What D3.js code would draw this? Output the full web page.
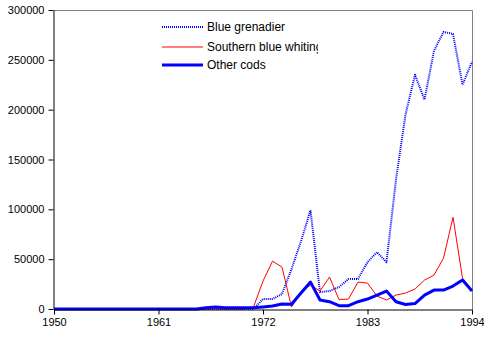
<!DOCTYPE html>
<html>
<head>
<meta charset="utf-8">
<script src="https://cdn.jsdelivr.net/npm/d3@7"></script>
<style>
body { margin: 0; background: #fff; }
svg { font-family: "Liberation Sans", Arial, sans-serif; }
</style>
</head>
<body>
<div id="chart"></div>
<script>

var years = d3.range(1950, 1995);

// values 1950..1994, tonnes
var blueGrenadier = [
	0,0,0,0,0,0,0,0,0,0,
	0,0,0,0,0,0,0,0,0,0,
	0,0,10000,10000,15000,40000,68000,99000,17000,18000,
	22000,30000,30000,47000,57000,47000,130000,195000,235000,210000,
	259000,278000,276000,225000,248000
];

var southernBlueWhiting = [
	0,0,0,0,0,0,0,0,0,0,
	0,0,0,0,0,0,0,0,0,0,
	0,2000,28000,48000,42000,2000,17000,24000,18000,32000,
	9500,10000,27000,26000,13000,9000,14000,16000,20000,29000,
	34000,51000,92000,31000,19000
];

var otherCods = [
	0,0,0,0,0,0,0,0,0,0,
	0,0,0,0,0,0,1200,2000,1200,1200,
	1200,1200,2000,3000,5000,4700,16000,27000,9000,7300,
	3300,3300,7300,10000,14000,18000,7300,4500,5500,14000,
	19000,19000,23000,29000,18000
];

var xTicks = [1950, 1961, 1972, 1983, 1994];
var yTicks = [0, 50000, 100000, 150000, 200000, 250000, 300000];

var series = [
	{name: 'Blue grenadier', values: blueGrenadier, color: '#0000ff', width: 2, dash: '1,1'},
	{name: 'Southern blue whiting', values: southernBlueWhiting, color: '#ff0000', width: 1, dash: null},
	{name: 'Other cods', values: otherCods, color: '#0000ff', width: 3, dash: null}
];

var width = 484, height = 342;
var margin = {top: 10, right: 12, bottom: 33, left: 54};

var svg = d3.select('#chart').append('svg')
			.attr('width', width)
			.attr('height', height);

var x = d3.scaleLinear()
		  .domain([1950, 1994])
		  .range([margin.left, width - margin.right]);

var y = d3.scaleLinear()
		  .domain([0, 300000])
		  .range([height - margin.bottom, margin.top]);

// plot frame: grey top and right
svg.append('path')
   .attr('d', 'M' + x(1950) + ',' + (y(300000) + 0.5) + 'H' + (x(1994) + 0.5) + 'V' + y(0))
   .attr('fill', 'none')
   .attr('stroke', '#808080')
   .attr('stroke-width', 1);

var line = d3.line()
			 .x(function(d, i){ return x(years[i]); })
			 .y(function(d){ return y(d); });

svg.selectAll('.series')
   .data(series)
   .enter().append('path')
   .attr('class', 'series')
   .attr('d', function(d){ return line(d.values); })
   .attr('fill', 'none')
   .attr('stroke', function(d){ return d.color; })
   .attr('stroke-width', function(d){ return d.width; })
   .attr('stroke-dasharray', function(d){ return d.dash; })
   .attr('stroke-linejoin', 'round');

var xAxis = svg.append('g')
			   .attr('transform', 'translate(0,' + (y(0) + 0.5) + ')')
			   .call(d3.axisBottom(x).tickValues(xTicks).tickFormat(d3.format('d')).tickSize(5).tickSizeOuter(0));

var yAxis = svg.append('g')
			   .attr('transform', 'translate(' + (x(1950) - 0.5) + ',0)')
			   .call(d3.axisLeft(y).tickValues(yTicks).tickFormat(d3.format('d')).tickSize(5).tickSizeOuter(0));

svg.selectAll('.tick text')
   .attr('font-size', 11)
   .attr('font-family', '"Liberation Sans", Arial, sans-serif')
   .attr('fill', '#000');

svg.selectAll('.domain, .tick line').attr('stroke', '#000');

xAxis.selectAll('.tick text').attr('dy', '0.71em').attr('y', 9);
yAxis.selectAll('.tick text').attr('x', -9);

// legend, clipped on the right like the original
svg.append('clipPath')
   .attr('id', 'legclip')
   .append('rect')
   .attr('x', 150).attr('y', 15).attr('width', 168).attr('height', 60);

var legend = svg.append('g')
				.attr('clip-path', 'url(#legclip)');

var legRows = [27, 47, 65];

var item = legend.selectAll('.leg')
				 .data(series)
				 .enter().append('g')
				 .attr('class', 'leg')
				 .attr('transform', function(d, i){ return 'translate(0,' + legRows[i] + ')'; });

item.append('line')
	.attr('x1', 162).attr('x2', 203)
	.attr('y1', 0).attr('y2', 0)
	.attr('stroke', function(d){ return d.color; })
	.attr('stroke-width', function(d){ return d.width; })
	.attr('stroke-dasharray', function(d){ return d.dash; });

item.append('text')
	.attr('x', 207)
	.attr('dy', '0.35em')
	.attr('font-size', 12)
	.text(function(d){ return d.name; });

</script>
</body>
</html>
